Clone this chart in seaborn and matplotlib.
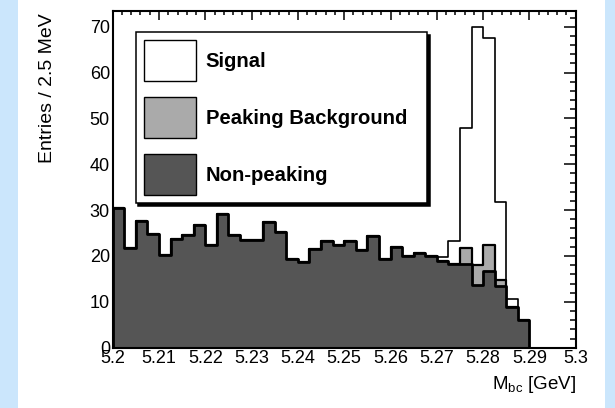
import numpy as np
import pandas as pd
import matplotlib
matplotlib.use("Agg")
import matplotlib.pyplot as plt
import seaborn as sns
from matplotlib.patches import Patch, Rectangle
from matplotlib.ticker import MultipleLocator

# ---------------- data ----------------
bin_lo = 5.2
bin_width = 0.0025
non_peaking = [30.5, 21.7, 27.6, 24.7, 20.2, 23.6, 24.5, 26.7, 22.3, 29.1,
               24.6, 23.4, 23.4, 27.5, 25.2, 19.4, 18.6, 21.5, 23.2, 22.4,
               23.3, 21.2, 24.3, 19.4, 21.9, 20.0, 20.6, 20.0, 18.9, 18.2,
               18.2, 13.6, 16.7, 13.5, 8.8, 6.1]
peaking = [0, 0, 0, 0, 0, 0, 0, 0, 0, 0,
           0, 0, 0, 0, 0, 0, 0, 0, 0, 0,
           0, 0, 0, 0, 0, 0, 0, 0, 0, 0,
           3.6, 4.4, 5.6, 1.2, 0, 0]
signal = [0, 0, 0, 0, 0, 0, 0, 0, 0, 0,
          0, 0, 0, 0, 0, 0, 0, 0, 0, 0,
          0, 0, 0, 0, 0, 0, 0, 0, 0.8, 5.1,
          26.1, 52.0, 45.2, 17.1, 1.8, 0]
labels = ["Signal", "Peaking Background", "Non-peaking"]
xtick_vals = [5.2, 5.21, 5.22, 5.23, 5.24, 5.25, 5.26, 5.27, 5.28, 5.29, 5.3]
xtick_labels = ["5.2", "5.21", "5.22", "5.23", "5.24", "5.25", "5.26", "5.27", "5.28", "5.29", "5.3"]
ytick_vals = [0, 10, 20, 30, 40, 50, 60, 70]

n = len(non_peaking)
edges = (bin_lo + bin_width * np.arange(n + 1)).tolist()
centers = [0.5 * (edges[i] + edges[i + 1]) for i in range(n)]
np_arr = np.array(non_peaking)
pk_arr = np.array(peaking)
sg_arr = np.array(signal)
df = pd.DataFrame({
    "x": centers,
    "total": np_arr + pk_arr + sg_arr,
    "np_pk": np_arr + pk_arr,
    "np": np_arr,
})

# ---------------- figure ----------------
sns.set_theme(style="white")
plt.rcParams["font.family"] = ["Liberation Sans", "DejaVu Sans"]
plt.rcParams["mathtext.fontset"] = "custom"
plt.rcParams["mathtext.rm"] = "Liberation Sans"
plt.rcParams["mathtext.default"] = "regular"
plt.rcParams["text.color"] = "black"
plt.rcParams["axes.labelcolor"] = "black"
plt.rcParams["xtick.color"] = "black"
plt.rcParams["ytick.color"] = "black"

W, H = 615, 408
fig = plt.figure(figsize=(W / 100, H / 100), dpi=100, facecolor="white")
blue = "#cbe6fc"
fig.patches.append(Rectangle((0, 0), 18 / W, 1, transform=fig.transFigure,
                             facecolor=blue, edgecolor="none", zorder=-10))
fig.patches.append(Rectangle((605 / W, 0), 1 - 605 / W, 1, transform=fig.transFigure,
                             facecolor=blue, edgecolor="none", zorder=-10))

ax_l, ax_r, ax_t, ax_b = 112.7, 575.7, 10.7, 347.7
ax = fig.add_axes([ax_l / W, 1 - ax_b / H, (ax_r - ax_l) / W, (ax_b - ax_t) / H])
ax.set_facecolor("white")

colors = {"total": "white", "np_pk": "#aaaaaa", "np": "#555555"}
lws = {"total": 1.2, "np_pk": 1.6, "np": 2.0}
for col in ["total", "np_pk", "np"]:
    sns.histplot(data=df, x="x", weights=col, bins=edges, element="step", fill=True,
                 facecolor=colors[col], edgecolor="black", linewidth=lws[col],
                 alpha=1, ax=ax)

ax.set_xlim(5.2, 5.3)
ax.set_ylim(0, 73.5)
ax.set_xticks(xtick_vals)
ax.set_xticklabels(xtick_labels)
ax.set_yticks(ytick_vals)
ax.xaxis.set_minor_locator(MultipleLocator(0.002))
ax.yaxis.set_minor_locator(MultipleLocator(2))
ax.tick_params(axis="both", which="both", direction="in", top=True, right=True,
               labelsize=13, colors="black", width=1.1, pad=2)
ax.tick_params(axis="x", which="major", length=6.5)
ax.tick_params(axis="x", which="minor", length=3.2)
ax.tick_params(axis="y", which="major", length=8.6)
ax.tick_params(axis="y", which="minor", length=4.3)
for s in ax.spines.values():
    s.set_visible(True)
    s.set_color("black")
    s.set_linewidth(1.5)

ax.set_ylabel("Entries / 2.5 MeV", fontsize=14, loc="top", color="black")
ax.yaxis.set_label_coords((56 - ax_l) / (ax_r - ax_l), 1 - (13 - ax_t) / (ax_b - ax_t))
ax.set_xlabel("M$_{bc}$ [GeV]", fontsize=13.5, loc="right", color="black")
ax.xaxis.set_label_coords(1.0, -(374 - ax_b) / (ax_b - ax_t))

# legend
handles = [Patch(facecolor=c, edgecolor="black", linewidth=1.0)
           for c in ["white", "#aaaaaa", "#555555"]]
lx0, ly0, lx1 = 135.7, 32.3, 427.0
bbox = ((lx0 - ax_l) / (ax_r - ax_l), 1 - (ly0 - ax_t) / (ax_b - ax_t),
        (lx1 - lx0) / (ax_r - ax_l), 0.0)
fs_leg = 14.6
leg = ax.legend(handles, labels, loc="upper left", bbox_to_anchor=bbox, mode="expand",
                prop={"size": fs_leg, "weight": "bold", "family": "Liberation Sans"},
                handlelength=2.67 * 14 / fs_leg, handleheight=2.79 * 14 / fs_leg,
                labelspacing=0.86 * 14 / fs_leg,
                handletextpad=0.51 * 14 / fs_leg, borderpad=0.42 * 14 / fs_leg,
                borderaxespad=0.0, labelcolor="black",
                frameon=True, fancybox=False,
                shadow={"color": "black", "alpha": 1.0, "ox": 2.0, "oy": -2.0})
leg.get_frame().set_edgecolor("black")
leg.get_frame().set_linewidth(1.1)
leg.set_zorder(10)

fig.savefig("out.png", dpi=100, facecolor=fig.get_facecolor())
